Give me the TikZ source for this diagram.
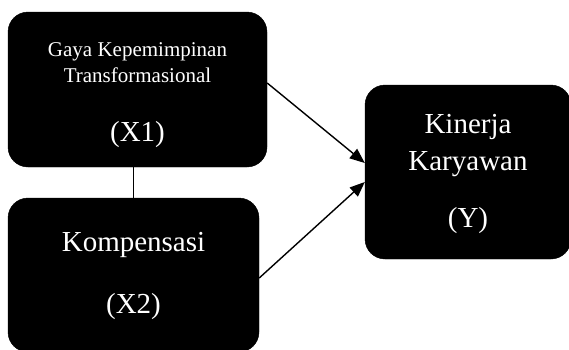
\documentclass[tikz,border=0pt]{standalone}
\usepackage{fontspec}
\setmainfont{Liberation Serif}
\usetikzlibrary{arrows.meta}

\tikzset{
  varbox/.style={draw=black, fill=black, text=white, rounded corners=20pt,
    inner sep=0pt, align=center, font=\fontsize{29}{37}\selectfont},
  path/.style={line width=1.4pt, -{Triangle[length=15pt,width=12pt]}}
}

\begin{document}
\begin{tikzpicture}[x=1pt, y=-1pt]
  \useasboundingbox (0,0) rectangle (569,349);
  \node (x1) [varbox, minimum width=259pt, minimum height=155pt] at (137.5,89.5)
    {\rule{0pt}{26pt}\fontsize{21}{27}\selectfont Gaya Kepemimpinan\\[-11pt]
     \fontsize{21}{27}\selectfont Transformasional\\[22pt]
     (X1)};
  \node (x2) [varbox, minimum width=251pt, minimum height=154pt] at (133.5,275)
    {\rule{0pt}{22pt}Kompensasi\\[25pt] (X2)};
  \node (y) [varbox, minimum width=206pt, minimum height=174pt] at (468,172)
    {\rule{0pt}{24pt}Kinerja\\ Karyawan\\[20pt] (Y)};

  \draw[line width=0.8pt] (x2.north) -- (x2.north |- x1.south);
  \draw[path] ([yshift=6.5pt]x1.east) -- ([yshift=9pt]y.west);
  \draw[path] ([yshift=-3pt]x2.east) -- ([yshift=-10pt]y.west);
\end{tikzpicture}
\end{document}
